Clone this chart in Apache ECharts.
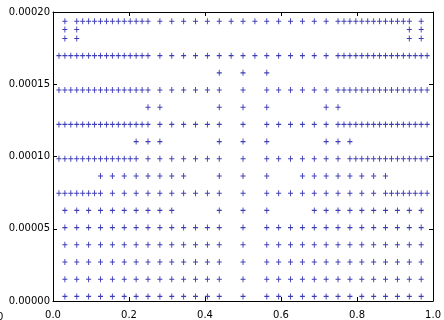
<!DOCTYPE html>
<html>
<head>
<meta charset="utf-8">
<script src="https://cdn.jsdelivr.net/npm/echarts@6/dist/echarts.min.js"></script>
<style>
  html, body { margin: 0; padding: 0; background: #fff; }
  #chart { width: 444px; height: 320px; }
</style>
</head>
<body>
<div id="chart"></div>
<script>
// Column positions are stored in 64ths of the x range.
const colUnit = 64;

// Row heights (y values) of the scatter grid.
const rowY = [
  3.2e-6, 15.1e-6, 27.0e-6, 38.9e-6, 50.8e-6, 62.7e-6, 74.6e-6, 86.5e-6,
  98.4e-6, 110.3e-6, 122.2e-6, 134.1e-6, 146.0e-6, 157.9e-6, 169.8e-6,
  181.7e-6, 187.9e-6, 193.6e-6
];

// Occupied columns for each row (same order as rowY).
const lowRow = [2,4,6,8,10,12,14,16,18,20,22,24,26,28,32,36,38,40,42,44,46,48,50,52,54,56,58,60,62];
const row5 = [2,4,6,8,10,12,14,16,18,20,28,32,36,44,46,48,50,52,54,56,58,60,62];
const row6 = [1,2,3,4,5,6,7,8,10,12,14,16,18,20,22,24,26,28,32,36,38,40,42,44,46,48,50,52,54,56,57,58,59,60,61,62,63];
const row7 = [8,10,12,14,16,18,20,22,28,32,36,42,44,46,48,50,52,54,56];
const row8 = [1,2,3,4,5,6,7,8,9,10,11,12,13,14,16,18,20,22,24,26,28,32,36,38,40,42,44,46,48,50,51,52,53,54,55,56,57,58,59,60,61,62,63];
const row9 = [14,16,18,28,32,36,46,48,50];
const row10 = [1,2,3,4,5,6,7,8,9,10,11,12,13,14,15,16,18,20,22,24,26,28,32,36,38,40,42,44,46,48,49,50,51,52,53,54,55,56,57,58,59,60,61,62,63];
const row11 = [16,18,28,32,36,46,48];
const row12 = [1,2,3,4,5,6,7,8,9,10,11,12,13,14,15,16,18,20,22,24,26,28,32,36,38,40,42,44,46,48,49,50,51,52,53,54,55,56,57,58,59,60,61,62,63];
const row13 = [28,32,36];
const row14 = [1,2,3,4,5,6,7,8,9,10,11,12,13,14,15,16,18,20,22,24,26,28,30,32,34,36,38,40,42,44,46,48,49,50,51,52,53,54,55,56,57,58,59,60,61,62,63];
const row15 = [2,4,60,62];
const row15b = [2,4,60,62];
const row16 = [2,4,5,6,7,8,9,10,11,12,13,14,15,16,18,20,22,24,26,28,30,32,34,36,38,40,42,44,46,48,49,50,51,52,53,54,55,56,57,58,59,60,62];

const rowCols = [lowRow, lowRow, lowRow, lowRow, lowRow, row5, row6, row7,
  row8, row9, row10, row11, row12, row13, row14, row15, row15b, row16];

// Axis tick settings.
const xTicks = [0, 0.2, 0.4, 0.6, 0.8, 1.0];
const yTicks = [0, 0.00005, 0.0001, 0.00015, 0.0002];

const points = [];
rowY.forEach((y, i) => {
  rowCols[i].forEach(c => points.push([c / colUnit, y]));
});

const chart = echarts.init(document.getElementById('chart'), null, { renderer: 'canvas' });

const lineStyle = { color: '#000', width: 1 };
const labelFont = { color: '#000', fontFamily: 'DejaVu Sans', fontSize: 10 };

chart.setOption({
  animation: false,
  backgroundColor: '#fff',
  grid: { left: 53, right: 9, top: 12, bottom: 15, containLabel: false },
  xAxis: [
    {
      type: 'value', position: 'bottom', min: xTicks[0], max: xTicks[xTicks.length - 1], interval: 0.2,
      axisLine: { show: true, lineStyle },
      axisTick: { show: true, inside: true, length: 4, lineStyle },
      axisLabel: Object.assign({ margin: 9, formatter: v => v.toFixed(1) }, labelFont),
      splitLine: { show: false }
    },
    {
      type: 'value', position: 'top', min: 0, max: 1, interval: 0.2,
      axisLine: { show: true, onZero: false, lineStyle },
      axisTick: { show: true, inside: true, length: 4, lineStyle },
      axisLabel: { show: false },
      splitLine: { show: false }
    }
  ],
  yAxis: [
    {
      type: 'value', position: 'left', min: yTicks[0], max: yTicks[yTicks.length - 1], interval: 0.00005,
      axisLine: { show: true, onZero: false, lineStyle },
      axisTick: { show: true, inside: true, length: 4, lineStyle },
      axisLabel: Object.assign({ margin: 3, formatter: v => v.toFixed(5) }, labelFont),
      splitLine: { show: false }
    },
    {
      type: 'value', position: 'right', min: 0, max: 0.0002, interval: 0.00005,
      axisLine: { show: true, onZero: false, lineStyle },
      axisTick: { show: true, inside: true, length: 4, lineStyle },
      axisLabel: { show: false },
      splitLine: { show: false }
    }
  ],
  graphic: [
    { type: 'text', left: -3, top: 312, style: { text: '0', fill: '#000', font: '10px "DejaVu Sans"' } }
  ],
  series: [{
    type: 'scatter',
    xAxisIndex: 0,
    yAxisIndex: 0,
    data: points,
    symbol: 'path://M0,1L2,1M1,0L1,2',
    symbolSize: [5, 6],
    itemStyle: { color: '#3c3cb4', borderColor: '#3c3cb4', borderWidth: 1, opacity: 1 },
    emphasis: { disabled: true }
  }]
});
</script>
</body>
</html>
